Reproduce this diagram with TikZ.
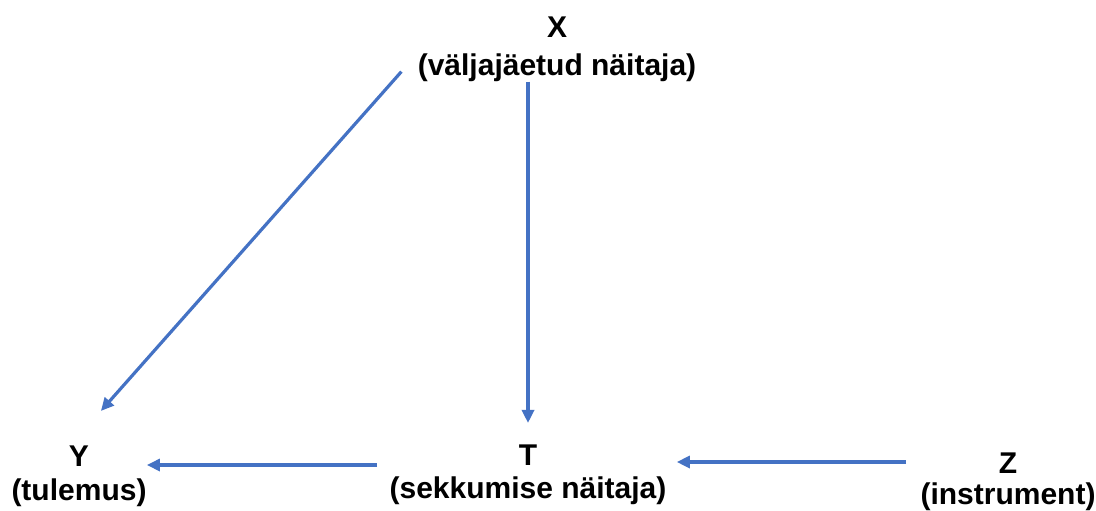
\documentclass[tikz,border=0pt]{standalone}
\usepackage{fontspec}
\setmainfont{Liberation Sans}
\usetikzlibrary{arrows.meta, calc}
\definecolor{lienbleu}{HTML}{4472C4}

\begin{document}
\begin{tikzpicture}[x=0.5pt, y=-0.5pt,
  var/.style={align=center, inner sep=0pt, anchor=base, font=\bfseries\fontsize{15}{16.5}\selectfont},
  lien/.style={-{Triangle[length=6.5pt, width=6pt]}, line width=1.6pt, lienbleu}]
  \useasboundingbox (0,0) rectangle (1096,510);
  % --- Variables ---
  \node[var, font=\bfseries\fontsize{15}{19}\selectfont] (x) at (557,75) {X\\(väljajäetud näitaja)};
  \node[var, font=\bfseries\fontsize{15}{17}\selectfont] (y) at (79,500) {Y\\(tulemus)};
  \node[var] (t) at (528,498) {T\\(sekkumise näitaja)};
  \node[var, font=\bfseries\fontsize{15}{15.5}\selectfont] (z) at (1008,504) {Z\\(instrument)};
  % --- Liens causaux ---
  \draw[lien] ($(x.south west)+(-16,-10)$) -- ($(y.north east)+(-46,-34)$);
  \draw[lien] (x.south -| t.north) -- ($(t.north)+(0,-21)$);
  \draw[lien] ($(t.west |- t.base)+(-12,-33)$) -- ($(y.east |- t.base)+(0,-33)$);
  \draw[lien] ($(z.west |- z.base)+(-14,-42)$) -- ($(t.east |- z.base)+(10,-42)$);
\end{tikzpicture}
\end{document}
